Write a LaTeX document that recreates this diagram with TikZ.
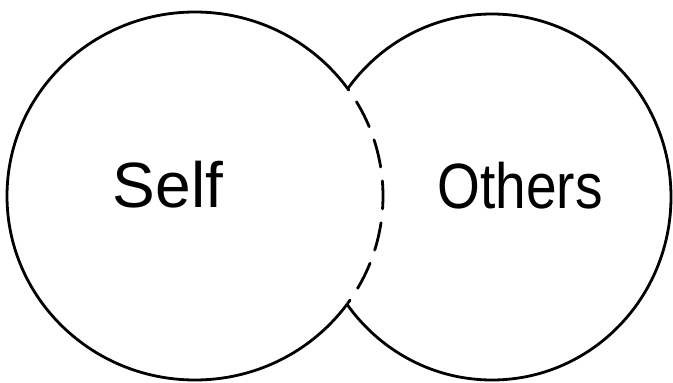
\documentclass[tikz,border=0pt]{standalone}
\usepackage{fontspec}
\setmainfont{Liberation Sans}
\begin{document}
\begin{tikzpicture}[x=1pt,y=-1pt,
  ln/.style={line width=2.8pt, line cap=round, line join=round},
  dsh/.style={ln, dash pattern=on 28pt off 14pt, dash phase=10pt},
  lbl/.style={font=\fontsize{64}{70}\selectfont, anchor=base, inner sep=0pt}]
\useasboundingbox (0,0) rectangle (673,383);
\coordinate (lc) at (195,196);
\coordinate (rc) at (492,197);
% left circle, solid part outside right circle
\begin{scope}[even odd rule]
  \clip (-20,-20) rectangle (693,403) (rc) ellipse [x radius=179pt, y radius=183pt];
  \draw[ln] (lc) ellipse [x radius=188pt, y radius=184pt];
\end{scope}
% left circle, dashed part inside right circle
\begin{scope}
  \clip (rc) ellipse [x radius=179pt, y radius=183pt];
  \draw[dsh] (lc) ++(-40:188pt and 184pt) arc [start angle=-40, end angle=40, x radius=188pt, y radius=184pt];
\end{scope}
% right circle, outside left circle
\begin{scope}[even odd rule]
  \clip (-20,-20) rectangle (693,403) (lc) ellipse [x radius=188pt, y radius=184pt];
  \draw[ln] (rc) ellipse [x radius=179pt, y radius=183pt];
\end{scope}
\node[lbl] (self) at (168,207) {Self};
\node[lbl, xscale=0.86] (others) at (520,208) {Others};
\end{tikzpicture}
\end{document}
